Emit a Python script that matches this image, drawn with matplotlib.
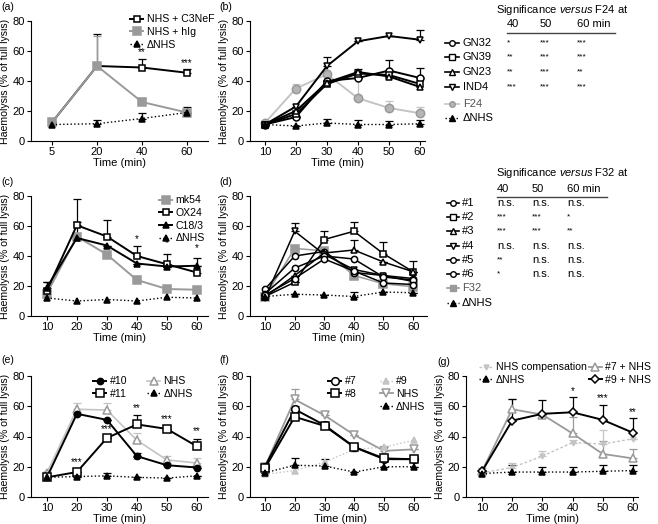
import matplotlib
matplotlib.use("Agg")
import matplotlib.pyplot as plt
from matplotlib.lines import Line2D
import numpy as np

plt.rcParams['font.family'] = ['Liberation Sans', 'DejaVu Sans']
plt.rcParams['font.size'] = 7.5
plt.rcParams['mathtext.fontset'] = 'custom'
plt.rcParams['mathtext.rm'] = 'Liberation Sans'
plt.rcParams['mathtext.it'] = 'Liberation Sans:italic'

BLACK = '#000000'
GRAY = '#9a9a9a'
LGRAY = '#c4c4c4'
FS = 7.6

# (a)
a_times = ['5', '20', '40', '60']
a_c3nef = [12.5, 50, 49, 45.5]
a_c3nef_err = [0, 21.5, 5.5, 2.5]
a_hig = [12.5, 50, 26, 19]
a_hig_err = [1.5, 20, 2.5, 0]
a_dnhs = [11, 11.5, 15, 19]
a_dnhs_err = [0, 2.5, 4, 4]

times = [10, 20, 30, 40, 50, 60]

# (b)
b_gn32 = [11, 16, 40, 42, 47, 42]
b_gn32_err = [0, 0, 0, 6, 7, 7]
b_gn39 = [11, 18, 38, 45, 44, 38]
b_gn23 = [11, 20, 39, 46, 43, 36]
b_ind4 = [11, 23, 50, 66.5, 70, 67.5]
b_ind4_err = [0, 0, 6, 0, 0, 6.5]
b_f24 = [12, 35, 44.5, 28.5, 22, 18.5]
b_f24_err = [0, 3, 0, 16, 5, 4]
b_dnhs = [11, 10, 12, 11, 11, 11.5]
b_dnhs_err = [0, 0, 3, 3, 2.5, 2.5]
b_names = ['GN32', 'GN39', 'GN23', 'IND4']
b_sig = [['*', '***', '***'], ['**', '***', '***'],
         ['**', '***', '**'], ['***', '***', '***']]

# (c)
c_mk54 = [15, 53, 41, 24, 18, 17.5]
c_mk54_err = [0, 0, 0, 3, 2, 0]
c_ox24 = [17, 60.5, 53, 40, 34.5, 29]
c_ox24_err = [6, 17.5, 11, 7, 7, 10]
c_c183 = [19, 52, 47, 35, 33, 33.5]
c_c183_err = [4, 11, 0, 0, 0, 0]
c_dnhs = [12, 10, 11, 10, 12.5, 12]
c_stars = [(40, 48, '*'), (50, 45, '*'), (50, 28, '*'), (60, 42, '*')]

# (d)
d_m1 = [18, 40, 43, 29, 27, 25]
d_m2 = [13, 22.5, 51, 56.5, 41.5, 29.5]
d_m2_err = [0, 0, 6, 6, 8, 7]
d_m3 = [13, 27, 42, 44, 36, 29.5]
d_m3_err = [0, 0, 0, 7, 0, 0]
d_m4 = [12, 56.5, 41, 31, 27, 23]
d_m4_err = [0, 5.5, 0, 0, 0, 0]
d_m5 = [15, 32, 40, 38, 26, 24]
d_m6 = [14, 25, 38, 30, 22, 21]
d_f32 = [13, 45, 43.5, 27, 21.5, 19.5]
d_f32_err = [3, 0, 0, 3, 2, 2]
d_dnhs = [13, 14.5, 14, 13, 16, 15.5]
d_dnhs_err = [0, 0, 0, 3, 0, 0]
d_names = ['#1', '#2', '#3', '#4', '#5', '#6']
d_sig = [['n.s.', 'n.s.', 'n.s.'], ['***', '***', '*'], ['***', '***', '**'],
         ['n.s.', 'n.s.', 'n.s.'], ['**', 'n.s.', 'n.s.'], ['*', 'n.s.', 'n.s.']]

# (e)
e_m10 = [13, 55, 51, 27, 21, 19.5]
e_m10_err = [0, 0, 0, 2, 0, 0]
e_m11 = [13, 16.5, 39, 48, 45, 33.5]
e_m11_err = [0, 0, 0, 6, 2, 5]
e_nhs = [16, 58, 57.5, 37.5, 24.5, 22.5]
e_nhs_err = [1.5, 4, 4.5, 5, 2.5, 3]
e_dnhs = [13, 13.5, 14, 13, 12.5, 14]
e_dnhs_err = [0, 0, 2, 0, 0, 0]
e_stars = [(20, 19.5, '***'), (30, 41.5, '***'), (40, 55.5, '**'),
           (40, 21, '**'), (50, 48, '***'), (60, 40, '**')]

# (f)
f_m7 = [20, 58, 47.5, 33, 25, 25]
f_m7_err = [0, 2, 0, 2, 0, 0]
f_m8 = [19, 53, 47, 33, 25.5, 25]
f_m8_err = [3, 0, 0, 0, 2, 2]
f_m9 = [15, 17.5, 23, 31.5, 33, 37.5]
f_nhs = [20, 64.5, 54, 41, 30.5, 31.5]
f_nhs_err = [0, 7, 0, 0, 3, 0]
f_dnhs = [16, 21, 20.5, 16.5, 20, 20]
f_dnhs_err = [0, 4.5, 4.5, 0, 0, 0]

# (g)
g_comp = [16, 19.5, 27, 36, 35, 38.5]
g_comp_err = [0, 3, 3.5, 2, 9, 0]
g_m7 = [17, 58, 54.5, 42, 28.5, 25.5]
g_m7_err = [2, 7, 0, 11, 8.5, 6]
g_m9 = [17, 50.5, 55, 56, 51, 42.5]
g_m9_err = [0, 14.5, 9, 10, 10, 9.5]
g_dnhs = [15.5, 16.5, 16.5, 16.5, 17, 17.5]
g_dnhs_err = [0, 4.5, 3.5, 3.5, 4, 3.5]
g_stars = [(40, 67, '*'), (50, 62, '***'), (60, 53, '**')]

W, H = 658, 524
fig = plt.figure(figsize=(W / 100, H / 100), dpi=100)


def px_axes(x0, y0, x1, y1):
    return fig.add_axes([x0 / W, 1 - y1 / H, (x1 - x0) / W, (y1 - y0) / H])


def style(ax, xlim, xticks, labels=None):
    ax.set_ylim(0, 80)
    ax.set_xlim(*xlim)
    ax.set_yticks([0, 20, 40, 60, 80])
    ax.set_xticks(xticks)
    if labels is not None:
        ax.set_xticklabels(labels)
    for s in ['top', 'right']:
        ax.spines[s].set_visible(False)
    ax.tick_params(direction='out', length=3, width=0.8, labelsize=8,
                   pad=1.5)
    ax.set_xlabel('Time (min)', fontsize=8, labelpad=0.5)
    ax.set_ylabel('Haemolysis (% of full lysis)', fontsize=FS, labelpad=1.5)


def series(ax, x, y, err=None, color=BLACK, marker='o', mfc='white', ls='-',
           ms=5, lw=1.4, label=None, mec=None):
    if mec is None:
        mec = color
    if err is not None:
        ax.errorbar(x, y, yerr=[np.zeros(len(err)), err], fmt='none',
                    ecolor=color, elinewidth=0.9, capsize=3, capthick=0.9,
                    zorder=2)
    ax.plot(x, y, ls=ls, color=color, lw=lw, marker=marker, mfc=mfc,
            mec=mec, mew=1.1, ms=ms, label=label, zorder=3, clip_on=False)


def stars(ax, items):
    for x, y, s in items:
        ax.text(x, y, s, ha='center', va='bottom', fontsize=7)


leg_kw = dict(bbox_transform=fig.transFigure, frameon=False, fontsize=FS,
              handlelength=1.25, handletextpad=0.3, labelspacing=0.25,
              borderpad=0, loc='upper left')

# ---------- (a)
ax = px_axes(31, 21, 208, 141)
xa = np.arange(len(a_times))
series(ax, xa, a_c3nef, a_c3nef_err, BLACK, 's', 'white', label='NHS + C3NeF')
series(ax, xa, a_hig, a_hig_err, GRAY, 's', GRAY, ms=6, label='NHS + hIg')
series(ax, xa, a_dnhs, a_dnhs_err, BLACK, '^', BLACK, ':', ms=4.5, lw=1,
       label='ΔNHS')
style(ax, (-0.47, 3.47), xa, a_times)
stars(ax, [(2, 56, '**'), (3, 48.5, '***')])
ax.legend(bbox_to_anchor=(125 / W, 1 - 9 / H), **leg_kw)

# ---------- (b)
ax = px_axes(250, 21, 425, 141)
series(ax, times, b_f24, b_f24_err, LGRAY, 'o', '#b5b5b5', mec='#999999', ms=6)
series(ax, times, b_gn32, b_gn32_err, BLACK, 'o', 'white')
series(ax, times, b_gn39, None, BLACK, 's', 'white')
series(ax, times, b_gn23, None, BLACK, '^', 'white')
series(ax, times, b_ind4, b_ind4_err, BLACK, 'v', 'white')
series(ax, times, b_dnhs, b_dnhs_err, BLACK, '^', BLACK, ':', ms=4.5, lw=1)
style(ax, (5.2, 61.6), times)

# ---------- (c)
ax = px_axes(31, 196, 208, 316)
series(ax, times, c_mk54, c_mk54_err, GRAY, 's', GRAY, ms=6, label='mk54')
series(ax, times, c_ox24, c_ox24_err, BLACK, 's', 'white', label='OX24')
series(ax, times, c_c183, c_c183_err, BLACK, '^', BLACK, ms=4, label='C18/3')
series(ax, times, c_dnhs, None, BLACK, '^', BLACK, ':', ms=4.5, lw=1,
       label='ΔNHS')
style(ax, (4.7, 63.7), times)
stars(ax, c_stars)
ax.legend(bbox_to_anchor=(154 / W, 1 - 190 / H), **leg_kw)

# ---------- (d)
ax = px_axes(250, 196, 427, 316)
series(ax, times, d_f32, d_f32_err, GRAY, 's', GRAY, ms=5.5, lw=1.1)
series(ax, times, d_m1, None, BLACK, 'o', 'white', ms=4.5, lw=1.1)
series(ax, times, d_m2, d_m2_err, BLACK, 's', 'white', ms=4.5, lw=1.1)
series(ax, times, d_m3, d_m3_err, BLACK, '^', 'white', ms=4.5, lw=1.1)
series(ax, times, d_m4, d_m4_err, BLACK, 'v', 'white', ms=4.5, lw=1.1)
series(ax, times, d_m5, None, BLACK, 'o', 'white', ms=4.5, lw=1.1)
series(ax, times, d_m6, None, BLACK, 'o', 'white', ms=4.5, lw=1.1)
series(ax, times, d_dnhs, d_dnhs_err, BLACK, '^', BLACK, ':', ms=4.5, lw=1)
style(ax, (4.9, 64.7), times)

# ---------- (e)
ax = px_axes(31, 376, 208, 497)
series(ax, times, e_nhs, e_nhs_err, LGRAY, '^', 'white', mec=GRAY, ms=5.5,
       lw=1.2, label='NHS')
series(ax, times, e_m10, e_m10_err, BLACK, 'o', BLACK, ms=4.5, label='#10')
series(ax, times, e_m11, e_m11_err, BLACK, 's', 'white', ms=6, label='#11')
series(ax, times, e_dnhs, e_dnhs_err, BLACK, '^', BLACK, ':', ms=4.5, lw=1,
       label='ΔNHS')
style(ax, (4.7, 63.7), times)
stars(ax, e_stars)
h, l = ax.get_legend_handles_labels()
order = [1, 2, 0, 3]
ax.legend([h[i] for i in order], [l[i] for i in order], ncol=2,
          bbox_to_anchor=(88 / W, 1 - 371 / H), columnspacing=1.9, **leg_kw)

# ---------- (f)
ax = px_axes(250, 376, 430, 497)
series(ax, times, f_nhs, f_nhs_err, GRAY, 'v', 'white', mec=GRAY, ms=5.5,
       lw=1.3, label='NHS')
series(ax, times, f_m9, None, LGRAY, '^', LGRAY, ':', ms=4, lw=1, label='#9')
series(ax, times, f_m7, f_m7_err, BLACK, 'o', 'white', ms=5.5, label='#7')
series(ax, times, f_m8, f_m8_err, BLACK, 's', 'white', ms=6, label='#8')
series(ax, times, f_dnhs, f_dnhs_err, BLACK, '^', BLACK, ':', ms=4.5, lw=1,
       label='ΔNHS')
style(ax, (5.0, 65.4), times)
h, l = ax.get_legend_handles_labels()
order = [2, 3, 1, 0, 4]
hh = [h[i] for i in order]
ll = [l[i] for i in order]
hh.insert(2, Line2D([], [], ls='none'))
ll.insert(2, '')
ax.legend(hh, ll, ncol=2, bbox_to_anchor=(323 / W, 1 - 371 / H),
          columnspacing=2.2, **leg_kw)

# ---------- (g)
ax = px_axes(466, 376, 638, 497)
series(ax, times, g_comp, g_comp_err, LGRAY, 'v', LGRAY, (0, (2, 1.5)),
       ms=3.5, lw=1, label='NHS compensation')
series(ax, times, g_m7, g_m7_err, GRAY, '^', 'white', mec=GRAY, ms=5.5,
       lw=1.3, label='#7 + NHS')
series(ax, times, g_m9, g_m9_err, BLACK, 'D', 'white', ms=4.5,
       label='#9 + NHS')
series(ax, times, g_dnhs, g_dnhs_err, BLACK, '^', BLACK, ':', ms=4.5, lw=1,
       label='ΔNHS')
style(ax, (4.7, 61.7), times)
stars(ax, g_stars)
h, l = ax.get_legend_handles_labels()
order = [0, 3, 1, 2]
ax.legend([h[i] for i in order], [l[i] for i in order], ncol=2,
          bbox_to_anchor=(474 / W, 1 - 357 / H), columnspacing=0.2, **leg_kw)

# panel letters
for s, x, y in [('(a)', 1, 7), ('(b)', 219, 7), ('(c)', 1, 182),
                ('(d)', 219, 182), ('(e)', 1, 360), ('(f)', 219, 360),
                ('(g)', 437, 362)]:
    fig.text(x / W, 1 - y / H, s, fontsize=FS, va='center', ha='left')

TFS = 8


# side tables for (b) and (d)
def handle(x0, x1, y, color, marker, mfc, ls='-', ms=4, mec=None, lw=1.3):
    yy = 1 - y / H
    fig.add_artist(Line2D([x0 / W, x1 / W], [yy, yy], color=color, ls=ls,
                          lw=lw, transform=fig.transFigure))
    fig.add_artist(Line2D([(x0 + x1) / 2 / W], [yy], marker=marker, mfc=mfc,
                          mec=mec or color, ms=ms, mew=1,
                          transform=fig.transFigure))


def table(title, ty, hy, cols, line_x, ly, rows_y, names, sig, extra,
          hx0, hx1, tx, mk):
    fig.text(496 / W, 1 - ty / H, title, fontsize=TFS, va='center')
    fig.text(cols[0] / W, 1 - hy / H, '40', fontsize=TFS, va='center')
    fig.text(cols[1] / W, 1 - hy / H, '50', fontsize=TFS, va='center')
    fig.text(cols[2] / W, 1 - hy / H, '60 min', fontsize=TFS, va='center')
    fig.add_artist(Line2D([line_x[0] / W, line_x[1] / W],
                          [1 - ly / H, 1 - ly / H], color='#444444', lw=1,
                          transform=fig.transFigure))
    for i, name in enumerate(names):
        y = rows_y[i]
        handle(hx0, hx1, y, BLACK, mk[i], 'white', lw=1.2)
        fig.text(tx / W, 1 - y / H, name, fontsize=TFS, va='center')
        for j, s in enumerate(sig[i]):
            fig.text(cols[j] / W, 1 - y / H, s,
                     fontsize=6 if s != 'n.s.' else TFS, va='center')
    for k, (name, color, marker, mfc, ls, mec) in enumerate(extra):
        y = rows_y[len(names) + k]
        handle(hx0, hx1, y, color, marker, mfc, ls, mec=mec,
               lw=1 if ls == ':' else 1.2)
        fig.text(tx / W, 1 - y / H, name, fontsize=TFS, va='center',
                 color=BLACK if k else '#555555')


table('Significance $\\it{versus}$ F24 at', 10, 24, [507, 540, 577],
      (507, 615), 33, [43, 57, 72, 87, 104, 118], b_names, b_sig,
      [('F24', LGRAY, 'o', '#b5b5b5', '-', '#999999'),
       ('ΔNHS', BLACK, '^', BLACK, ':', BLACK)],
      445, 459, 463, ['o', 's', '^', 'v'])

table('Significance $\\it{versus}$ F32 at', 173, 189, [497, 532, 567],
      (497, 607), 197, [203, 217, 231, 246, 260, 274, 288, 303], d_names,
      d_sig,
      [('F32', GRAY, 's', GRAY, '-', GRAY),
       ('ΔNHS', BLACK, '^', BLACK, ':', BLACK)],
      447, 459, 462, ['o', 's', '^', 'v', 'o', 'o'])

fig.savefig('out.png', dpi=100)
